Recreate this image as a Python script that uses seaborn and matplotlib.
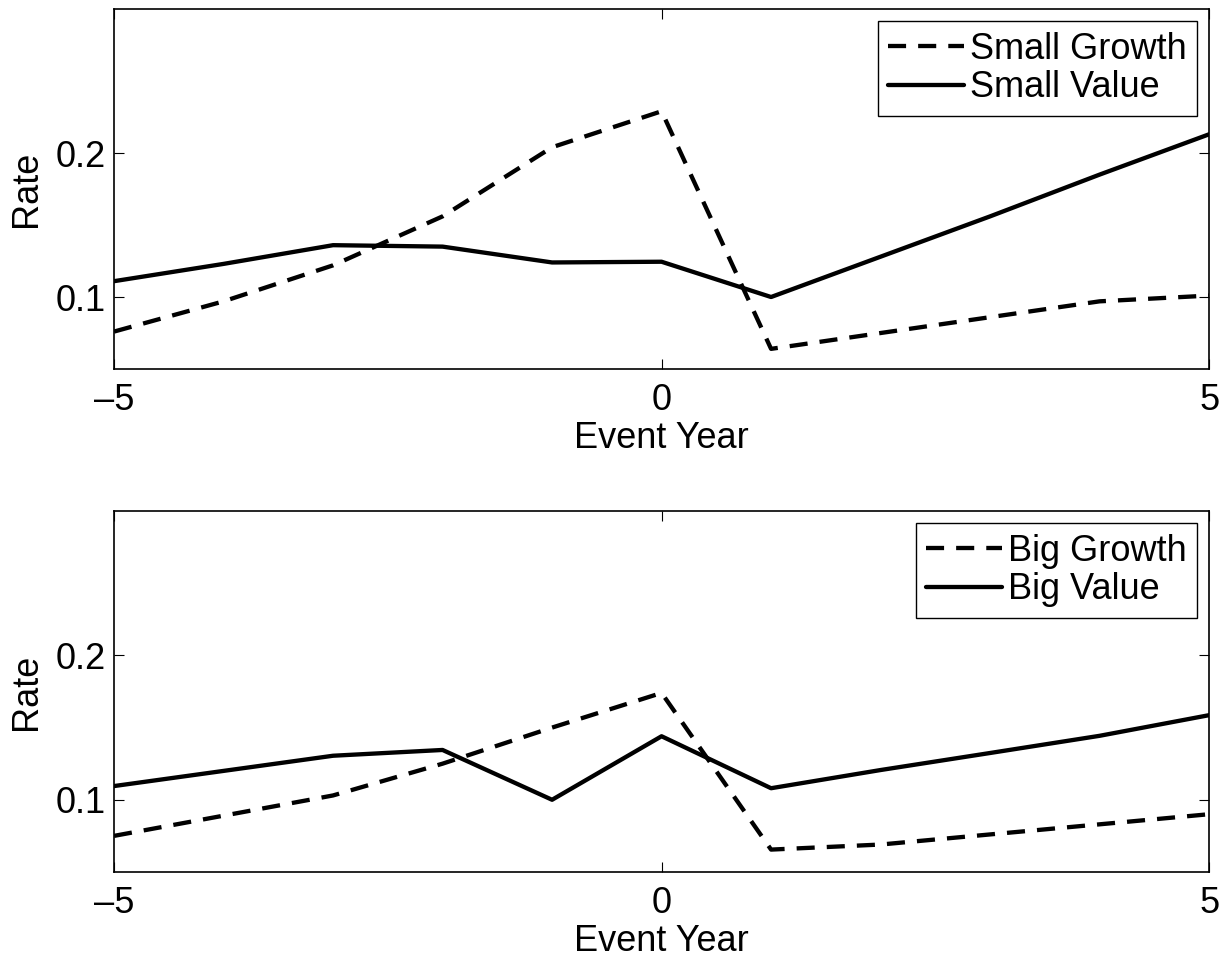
import matplotlib
matplotlib.use("Agg")
import matplotlib.pyplot as plt
import seaborn as sns
import pandas as pd

years = [-5, -4, -3, -2, -1, 0, 1, 2, 3, 4, 5]
small_growth = [0.076, 0.097, 0.122, 0.156, 0.204, 0.229, 0.064, 0.075, 0.086, 0.097, 0.101]
small_value = [0.111, 0.123, 0.136, 0.135, 0.124, 0.1245, 0.100, 0.128, 0.156, 0.185, 0.213]
big_growth = [0.075, 0.089, 0.103, 0.125, 0.150, 0.174, 0.0655, 0.069, 0.076, 0.083, 0.090]
big_value = [0.1095, 0.120, 0.1305, 0.1345, 0.100, 0.144, 0.108, 0.1206, 0.1324, 0.1443, 0.1586]

panels = [
    ("Small Growth", small_growth, "Small Value", small_value),
    ("Big Growth", big_growth, "Big Value", big_value),
]
xticks = [-5, 0, 5]
yticks = [0.1, 0.2]
xlabel = "Event Year"
ylabel = "Rate"

sns.set_theme(style="white")
plt.rcParams["font.family"] = ["Liberation Sans", "DejaVu Sans"]
plt.rcParams["text.color"] = "black"
plt.rcParams["axes.labelcolor"] = "black"
plt.rcParams["xtick.color"] = "black"
plt.rcParams["ytick.color"] = "black"
FS = 26

fig = plt.figure(figsize=(12.29, 9.58), dpi=100)
positions = [
    [0.0928, 0.6148, 0.8910, 0.3758],
    [0.0928, 0.0898, 0.8910, 0.3768],
]

for pos, (g_name, g_vals, v_name, v_vals) in zip(positions, panels):
    ax = fig.add_axes(pos)
    df = pd.DataFrame({"year": years, "g": g_vals, "v": v_vals})
    sns.lineplot(data=df, x="year", y="g", ax=ax, color="black", linewidth=3.1,
                 label=g_name)
    ax.lines[-1].set_dashes((4.2, 2.8))
    sns.lineplot(data=df, x="year", y="v", ax=ax, color="black", linewidth=3.1,
                 label=v_name)
    ax.set_xlim(-5, 5)
    ax.set_ylim(0.05, 0.3)
    ax.set_xticks(xticks)
    ax.set_yticks(yticks)
    ax.set_xticklabels([str(t) if t >= 0 else "\u2013" + str(-t) for t in xticks])
    ax.set_yticklabels([f"{t:.1f}" for t in yticks])
    ax.set_xlabel(xlabel, fontsize=FS, labelpad=2, color="black")
    ax.set_ylabel(ylabel, fontsize=FS, labelpad=8, color="black")
    ax.tick_params(axis="both", which="both", direction="in", length=7.2, width=0.8,
                   color="black", labelcolor="black", labelsize=FS, top=True,
                   right=True, bottom=True, left=True)
    ax.tick_params(axis="x", pad=10)
    ax.tick_params(axis="y", pad=6)
    for s in ax.spines.values():
        s.set_visible(True)
        s.set_color("black")
        s.set_linewidth(1.2)
    ax.grid(False)
    leg = ax.legend(loc="upper right", fontsize=FS, frameon=True, fancybox=False,
                    framealpha=1, edgecolor="black", borderaxespad=0.33,
                    handlelength=2.1, handletextpad=0.15, borderpad=0.3,
                    labelspacing=0.1)
    leg.get_frame().set_linewidth(1.0)
    for h in leg.get_lines():
        h.set_linewidth(3.1)
    for t in leg.get_texts():
        t.set_color("black")

fig.savefig("out.png", dpi=100, facecolor="white")
